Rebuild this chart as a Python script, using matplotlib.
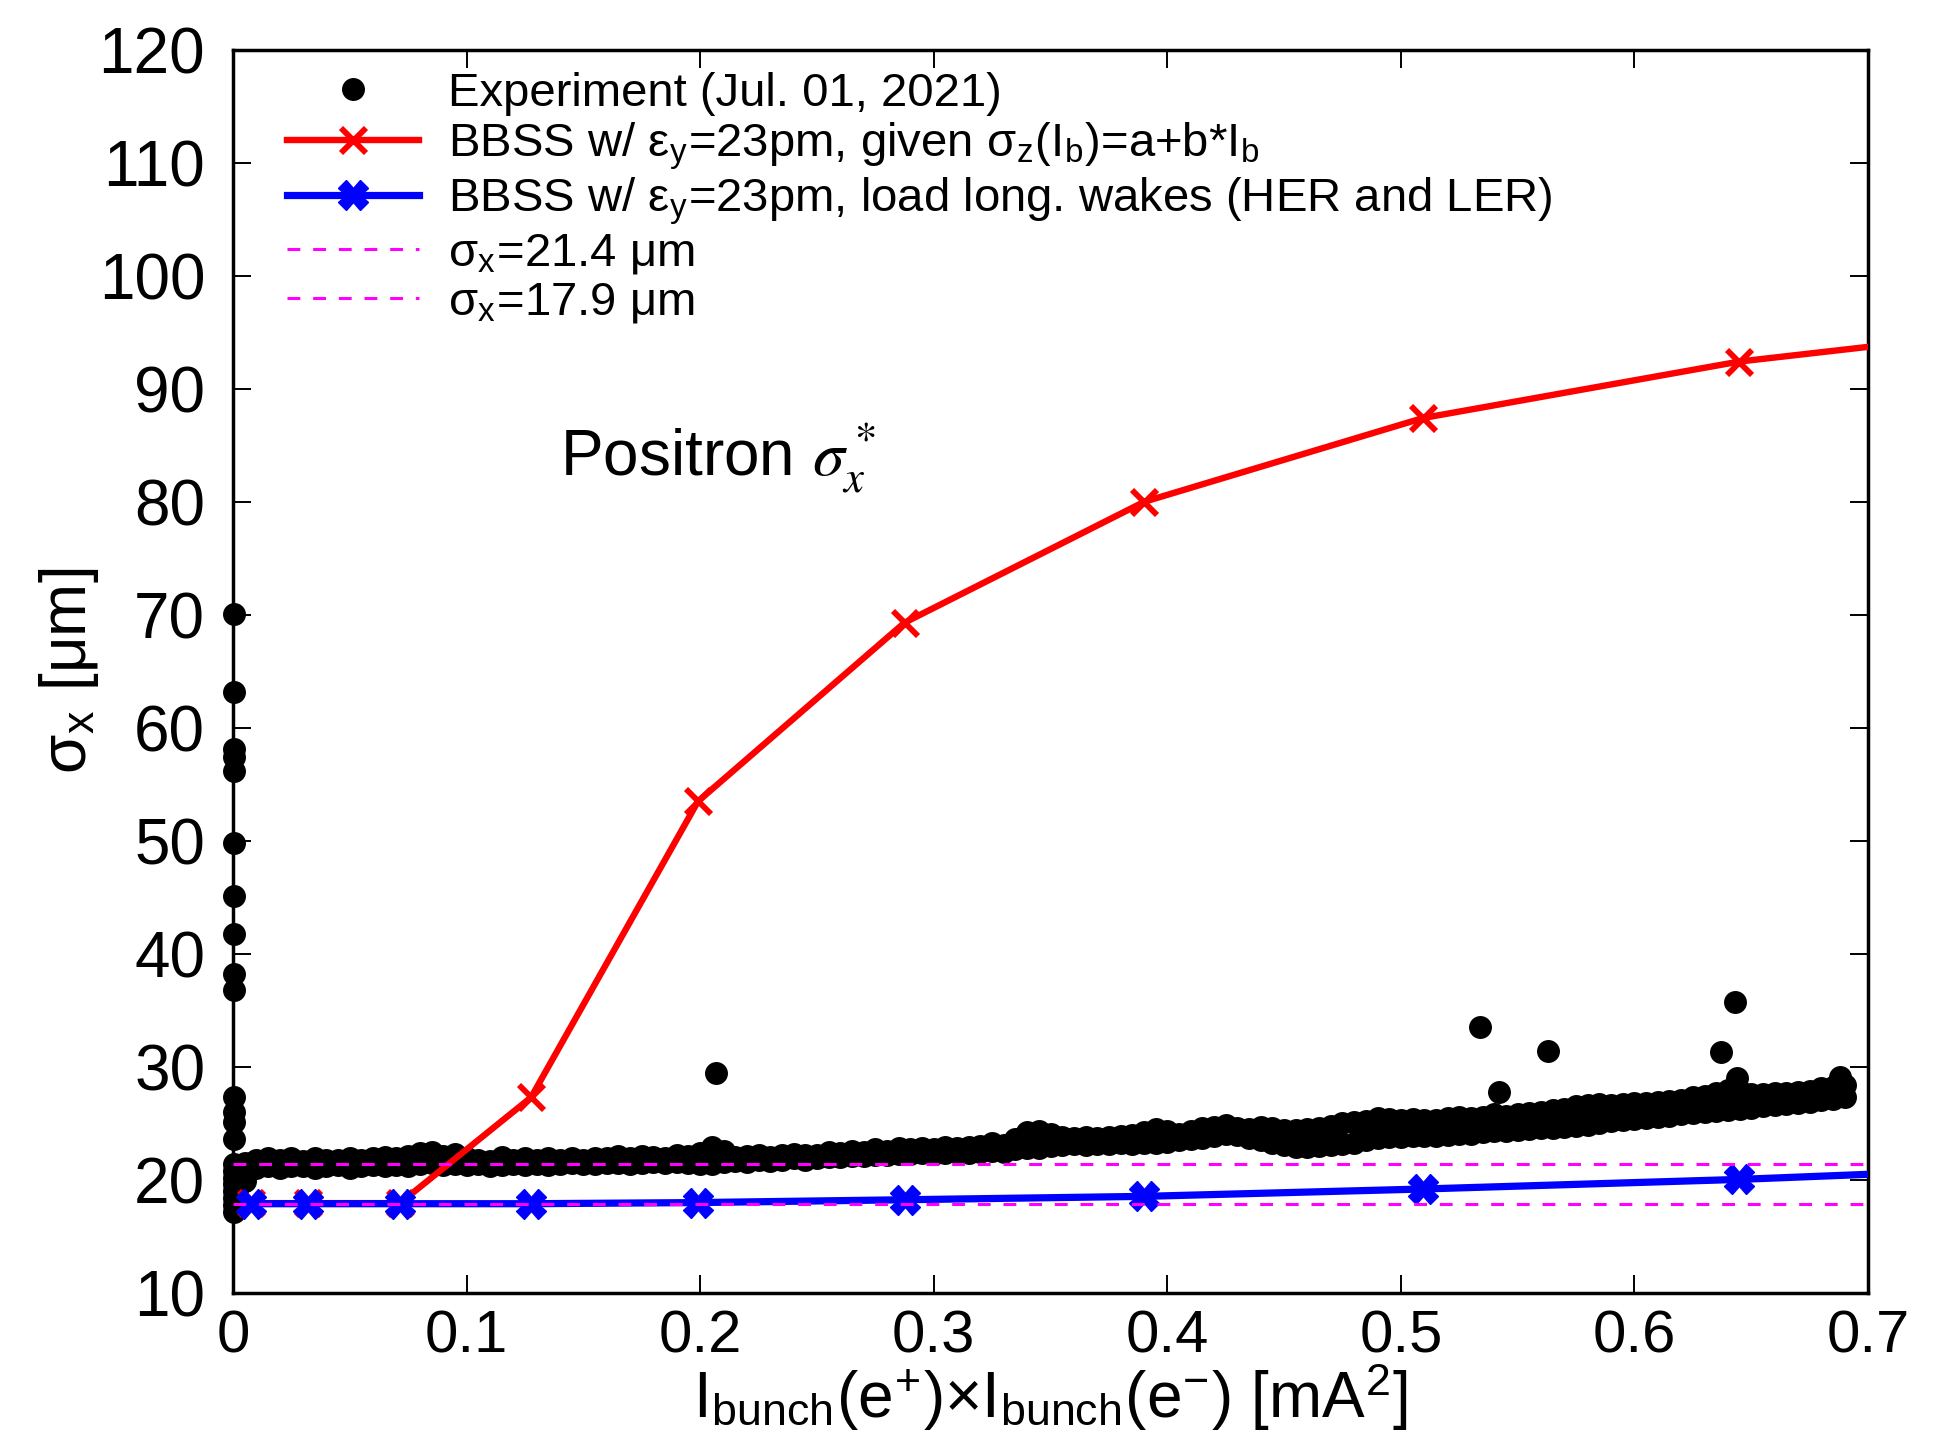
import matplotlib
matplotlib.use("Agg")
import matplotlib.pyplot as plt

plt.rcParams['font.family'] = ['Liberation Sans', 'DejaVu Sans']
plt.rcParams['mathtext.fontset'] = 'stix'

# simulation: BBSS, given sigma_z(Ib)
sim_x = [0.0079, 0.0323, 0.0715, 0.1276, 0.1991, 0.2875, 0.3902, 0.5094, 0.6449, 0.700]
red_y = [17.95, 17.95, 17.95, 27.3, 53.5, 69.3, 80.0, 87.4, 92.4, 93.7]
# simulation: BBSS, load long. wakes
blue_y = [17.9, 17.9, 17.9, 17.9, 18.0, 18.25, 18.55, 19.2, 20.05, 20.5]

# experiment band: x with lower / upper dot centres
band_x = [0.005, 0.010, 0.015, 0.020, 0.025, 0.030, 0.035, 0.040, 0.045, 0.050,
          0.055, 0.060, 0.065, 0.070, 0.075, 0.080, 0.085, 0.090, 0.095, 0.100,
          0.105, 0.110, 0.115, 0.120, 0.125, 0.130, 0.135, 0.140, 0.145, 0.150,
          0.155, 0.160, 0.165, 0.170, 0.175, 0.180, 0.185, 0.190, 0.195, 0.200,
          0.205, 0.210, 0.215, 0.220, 0.225, 0.230, 0.235, 0.240, 0.245, 0.250,
          0.255, 0.260, 0.265, 0.270, 0.275, 0.280, 0.285, 0.290, 0.295, 0.300,
          0.305, 0.310, 0.315, 0.320, 0.325, 0.330, 0.335, 0.340, 0.345, 0.350,
          0.355, 0.360, 0.365, 0.370, 0.375, 0.380, 0.385, 0.390, 0.395, 0.400,
          0.405, 0.410, 0.415, 0.420, 0.425, 0.430, 0.435, 0.440, 0.445, 0.450,
          0.455, 0.460, 0.465, 0.470, 0.475, 0.480, 0.485, 0.490, 0.495, 0.500,
          0.505, 0.510, 0.515, 0.520, 0.525, 0.530, 0.535, 0.540, 0.545, 0.550,
          0.555, 0.560, 0.565, 0.570, 0.575, 0.580, 0.585, 0.590, 0.595, 0.600,
          0.605, 0.610, 0.615, 0.620, 0.625, 0.630, 0.635, 0.640, 0.645, 0.650,
          0.655, 0.660, 0.665, 0.670, 0.675, 0.680, 0.685, 0.690]
band_lo = [19.9, 21.1, 21.2, 21.1, 21.2, 21.2, 21.1, 21.2, 21.3, 21.1,
           21.2, 21.3, 21.2, 21.3, 21.2, 21.4, 21.5, 21.3, 21.4, 21.3,
           21.4, 21.2, 21.3, 21.4, 21.3, 21.4, 21.3, 21.4, 21.5, 21.4,
           21.4, 21.5, 21.5, 21.4, 21.5, 21.6, 21.5, 21.6, 21.5, 21.4,
           21.4, 21.6, 21.7, 21.6, 21.8, 21.7, 21.8, 21.9, 21.8, 21.9,
           22.0, 22.0, 22.1, 22.1, 22.2, 22.2, 22.3, 22.3, 22.4, 22.3,
           22.4, 22.5, 22.4, 22.5, 22.6, 22.5, 22.7, 22.8, 22.8, 23.0,
           23.1, 23.2, 23.1, 23.2, 23.2, 23.3, 23.2, 23.3, 23.3, 23.4,
           23.5, 23.6, 23.7, 23.9, 24.1, 24.0, 23.7, 23.5, 23.3, 23.1,
           22.9, 22.9, 23.0, 23.1, 23.2, 23.3, 23.5, 23.7, 23.8, 23.8,
           23.9, 23.9, 23.9, 24.0, 24.1, 24.1, 24.2, 24.3, 24.3, 24.4,
           24.5, 24.6, 24.6, 24.7, 24.8, 24.9, 25.0, 25.2, 25.3, 25.4,
           25.5, 25.6, 25.7, 25.8, 25.9, 26.0, 26.1, 26.2, 26.3, 26.4,
           26.5, 26.6, 26.7, 26.8, 26.9, 27.1, 27.2, 27.3]
band_hi = [21.5, 21.8, 21.9, 21.8, 21.9, 21.7, 21.9, 21.8, 21.8, 21.9,
           21.8, 21.9, 22.0, 21.9, 22.1, 22.4, 22.5, 22.1, 22.3, 21.9,
           21.8, 21.7, 22.0, 21.8, 21.9, 21.8, 21.9, 21.8, 21.9, 21.8,
           21.9, 21.9, 22.1, 21.9, 22.1, 22.0, 21.9, 22.2, 22.1, 22.4,
           22.9, 22.6, 22.0, 22.1, 22.2, 22.0, 22.2, 22.3, 22.2, 22.2,
           22.5, 22.4, 22.6, 22.5, 22.7, 22.6, 22.8, 22.7, 22.8, 22.7,
           22.9, 22.8, 22.9, 23.0, 23.3, 23.1, 23.6, 24.2, 24.3, 24.1,
           23.8, 23.7, 23.8, 23.7, 23.8, 23.9, 24.0, 24.2, 24.5, 24.3,
           24.1, 24.3, 24.6, 24.7, 24.9, 24.6, 24.5, 24.7, 24.6, 24.4,
           24.4, 24.5, 24.6, 24.8, 25.0, 25.1, 25.2, 25.5, 25.4, 25.3,
           25.4, 25.3, 25.3, 25.5, 25.6, 25.5, 25.6, 25.8, 25.7, 25.8,
           25.9, 26.0, 26.2, 26.3, 26.5, 26.6, 26.7, 26.6, 26.7, 26.8,
           26.8, 26.9, 27.0, 27.1, 27.3, 27.4, 27.7, 28.0, 27.9, 27.6,
           27.6, 27.7, 27.7, 27.8, 27.9, 28.1, 28.2, 28.4]

# points near zero current and isolated outliers
extra_x = [0.0005, 0.0005, 0.0005, 0.0005, 0.0005, 0.0005, 0.0005, 0.0005,
           0.0005, 0.0005, 0.0005, 0.0005, 0.0005, 0.0005, 0.0005, 0.0005,
           0.0005, 0.0005, 0.0005, 0.0005, 0.0005, 0.0005, 0.003, 0.003,
           0.207, 0.534, 0.563, 0.542, 0.643, 0.637, 0.644, 0.688]
extra_y = [17.2, 17.8, 18.4, 19.0, 19.6, 20.2, 20.8, 21.4, 23.6, 25.1,
           26.0, 27.3, 36.8, 38.2, 41.8, 45.1, 49.8, 56.2, 57.4, 58.1,
           63.2, 70.1, 19.6, 20.4,
           29.5, 33.5, 31.4, 27.8, 35.7, 31.3, 29.0, 29.1]

ref_levels = [21.4, 17.9]

fig = plt.figure(figsize=(19.4, 14.41), dpi=100)
ax = fig.add_axes([0.1201, 0.1027, 0.8428, 0.8629])

exp_x = band_x + band_x + extra_x
exp_y = band_lo + band_hi + extra_y
ax.plot(exp_x, exp_y, 'o', color='black', markersize=15.5, linestyle='none',
        label='Experiment (Jul. 01, 2021)', zorder=2, clip_on=False)

ax.plot(sim_x, red_y, color='red', lw=4.6, marker='x', markersize=18, mew=4.2,
        markevery=list(range(9)), zorder=3,
        label='BBSS w/ ε$_\\mathregular{y}$=23pm, given σ$_\\mathregular{z}$(I$_\\mathregular{b}$)=a+b*I$_\\mathregular{b}$')
ax.plot(sim_x, blue_y, color='blue', lw=5.2, marker='X', markersize=21, mew=1,
        markevery=list(range(9)), zorder=4,
        label='BBSS w/ ε$_\\mathregular{y}$=23pm, load long. wakes (HER and LER)')
for lev in ref_levels:
    ax.axhline(lev, color='magenta', lw=2.2, dashes=(4.2, 4.2), zorder=5,
               label='σ$_\\mathregular{x}$=%.1f μm' % lev)

ax.set_xlim(0, 0.7)
ax.set_ylim(10, 120)
ax.set_xticks([0, 0.1, 0.2, 0.3, 0.4, 0.5, 0.6, 0.7])
ax.set_xticklabels(['0', '0.1', '0.2', '0.3', '0.4', '0.5', '0.6', '0.7'])
ax.set_yticks(range(10, 121, 10))
ax.tick_params(direction='in', length=13, width=1.4, top=True, right=True)
ax.tick_params(axis='y', pad=20, labelsize=46)
ax.tick_params(axis='x', pad=12, labelsize=43)
for s in ax.spines.values():
    s.set_linewidth(2.5)

ax.set_xlabel('I$_\\mathregular{bunch}$(e$^\\mathregular{+}$)×I$_\\mathregular{bunch}$(e$^\\mathregular{-}$) [mA$^\\mathregular{2}$]',
              fontsize=46, labelpad=-2)
ax.set_ylabel('σ$_\\mathregular{x}$ [μm]', fontsize=46, labelpad=-2)

ax.text(0.140, 82.3, 'Positron $\\sigma_x^*$', fontsize=46, va='baseline')

ax.legend(loc='upper left', bbox_to_anchor=(0.033, 0.982), frameon=False,
          fontsize=34, handlelength=2.8, handletextpad=0.6, labelspacing=0.09,
          borderpad=0, borderaxespad=0, numpoints=1)

fig.savefig('out.png', dpi=100, facecolor='white')
